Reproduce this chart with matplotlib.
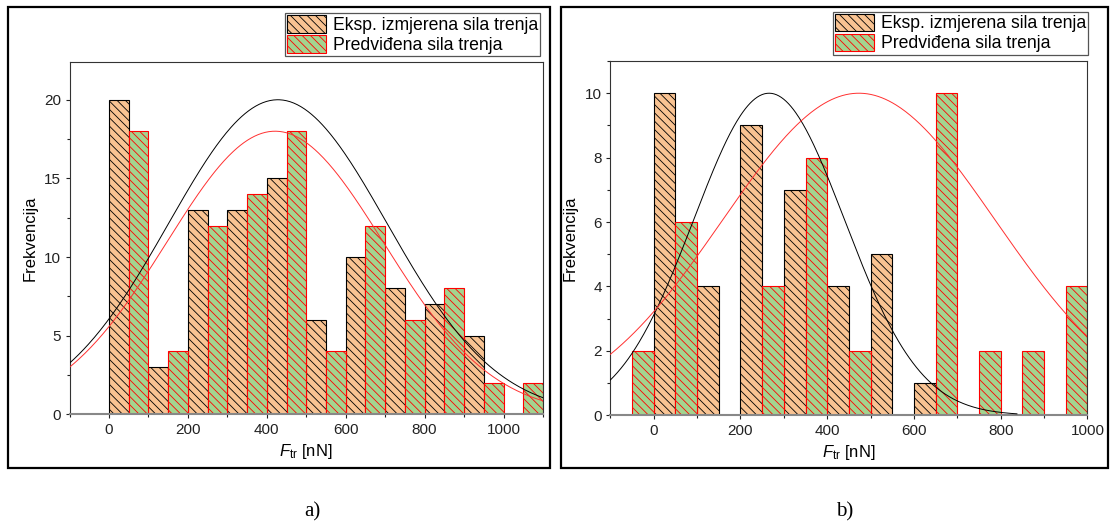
import numpy as np
import matplotlib
matplotlib.use("Agg")
import matplotlib.pyplot as plt
from matplotlib.patches import Rectangle, Patch
from matplotlib.ticker import MultipleLocator

plt.rcParams['font.family'] = ['Liberation Sans', 'DejaVu Sans']
plt.rcParams['mathtext.fontset'] = 'custom'
plt.rcParams['mathtext.rm'] = 'Liberation Sans'
plt.rcParams['mathtext.it'] = 'Liberation Sans:italic'
plt.rcParams['hatch.linewidth'] = 0.6

# Data: panel a) (bin width 50 nN, left edges)
a_exp_edges = [0, 100, 200, 300, 400, 500, 600, 700, 800, 900]
a_exp_counts = [20, 3, 13, 13, 15, 6, 10, 8, 7, 5]
a_pred_edges = [50, 150, 250, 350, 450, 550, 650, 750, 850, 950, 1050]
a_pred_counts = [18, 4, 12, 14, 18, 4, 12, 6, 8, 2, 2]
# Gaussian fits (amplitude, mean, sigma)
a_fit_exp = (20, 428, 277)
a_fit_pred = (18, 421, 275)

# Data: panel b)
b_exp_edges = [0, 100, 200, 300, 400, 500, 600]
b_exp_counts = [10, 4, 9, 7, 4, 5, 1]
b_pred_edges = [-50, 50, 250, 350, 450, 650, 750, 850, 950]
b_pred_counts = [2, 6, 4, 8, 2, 10, 2, 2, 4]
b_fit_exp = (10, 266, 174)
b_fit_pred = (10, 473, 314)

labels = ['Eksp. izmjerena sila trenja', 'Predviđena sila trenja']
c_orange = '#F9C392'
c_green = '#A3D48F'
W, H = 1110, 531


def gauss(x, p):
    amp, mu, sig = p
    return amp * np.exp(-(x - mu) ** 2 / (2 * sig ** 2))


fig = plt.figure(figsize=(W / 100, H / 100), dpi=100)


def panel(rect, exp_e, exp_c, pred_e, pred_c, fit_e, fit_p, xlim, ylim,
          ymaj, ymin, black_end, leg_anchor):
    ax = fig.add_axes(rect)
    ax.bar(exp_e, exp_c, width=50, align='edge', color=c_orange,
           edgecolor='black', hatch='\\\\\\\\', linewidth=0.8, zorder=1)
    ax.bar(pred_e, pred_c, width=50, align='edge', color=c_green,
           edgecolor='#FF0000', hatch='\\\\\\\\', linewidth=0.8, zorder=1)
    x = np.linspace(xlim[0], xlim[1], 400)
    xb = x[x <= black_end]
    ax.plot(xb, gauss(xb, fit_e), color='black', lw=0.7, zorder=3)
    ax.plot(x, gauss(x, fit_p), color='#FF3030', lw=0.7, zorder=3)
    ax.set_xlim(*xlim)
    ax.set_ylim(*ylim)
    ax.xaxis.set_major_locator(MultipleLocator(200))
    ax.xaxis.set_minor_locator(MultipleLocator(100))
    ax.yaxis.set_major_locator(MultipleLocator(ymaj))
    ax.yaxis.set_minor_locator(MultipleLocator(ymin))
    ax.tick_params(which='major', length=3, width=0.8, pad=3,
                   labelsize=11, colors='#222222')
    ax.tick_params(which='minor', length=2, width=0.8, colors='#222222')
    for s in ['left', 'top', 'right']:
        ax.spines[s].set_color('#333333')
        ax.spines[s].set_linewidth(0.8)
    ax.spines['bottom'].set_color('#888888')
    ax.spines['bottom'].set_linewidth(1.5)
    ax.set_xlabel(r'$F_{\rm tr}$ [nN]', fontsize=12, labelpad=4)
    ax.set_ylabel('Frekvencija', fontsize=12, labelpad=5)
    handles = [Patch(facecolor=c_orange, edgecolor='black', hatch='\\\\\\\\', lw=0.8),
               Patch(facecolor=c_green, edgecolor='#FF0000', hatch='\\\\\\\\', lw=0.8)]
    leg = ax.legend(handles, labels, loc='upper right',
                    bbox_to_anchor=(leg_anchor[0] / W, 1 - leg_anchor[1] / H),
                    bbox_transform=fig.transFigure, borderaxespad=0,
                    fontsize=12.7, fancybox=False, framealpha=1,
                    edgecolor='#555555', handlelength=2.2, handleheight=1.15,
                    handletextpad=0.38, labelspacing=0.08, borderpad=0.12)
    leg.get_frame().set_linewidth(0.9)
    return ax


panel([69.5 / W, 1 - 414.3 / H, 473.5 / W, 352.3 / H],
      a_exp_edges, a_exp_counts, a_pred_edges, a_pred_counts,
      a_fit_exp, a_fit_pred, (-100, 1100), (0, 22.4), 5, 2.5, 1100, (540, 13))
panel([610.3 / W, 1 - 415.3 / H, 477.2 / W, 354.3 / H],
      b_exp_edges, b_exp_counts, b_pred_edges, b_pred_counts,
      b_fit_exp, b_fit_pred, (-100, 1000), (0, 11), 2, 1, 840, (1088, 11.5))

# panel frames
for x0, x1 in [(8, 550), (561, 1108)]:
    fig.patches.append(Rectangle((x0 / W, 1 - 468 / H), (x1 - x0) / W, 461 / H,
                                 transform=fig.transFigure, fill=False,
                                 edgecolor='black', linewidth=1.6))

fig.text(312 / W, 1 - 512 / H, 'a)', ha='center', va='center',
         family='Liberation Serif', fontsize=15)
fig.text(845 / W, 1 - 512 / H, 'b)', ha='center', va='center',
         family='Liberation Serif', fontsize=15)

fig.savefig('out.png', dpi=100)
